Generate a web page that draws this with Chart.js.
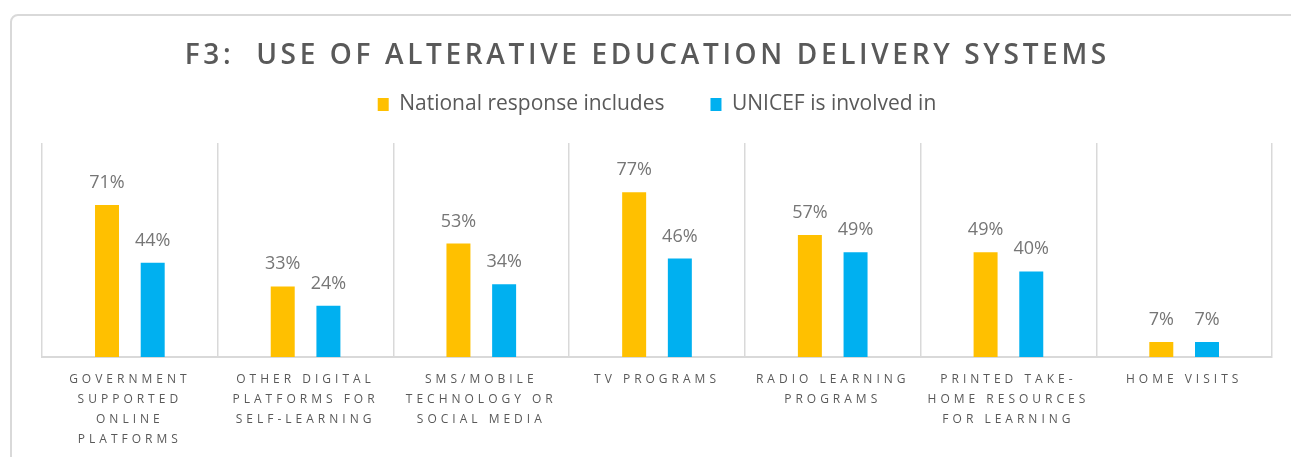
<!DOCTYPE html>
<html>
<head>
<meta charset="utf-8">
<title>F3: Use of alterative education delivery systems</title>
<script src="https://cdn.jsdelivr.net/npm/chart.js@4/dist/chart.umd.min.js"></script>
<style>
  html, body { margin: 0; padding: 0; background: #fff; }
  #chart { display: block; }
</style>
</head>
<body>
<canvas id="chart" width="1291" height="457"></canvas>
<script>
// Chart data
const titleText = 'F3:  USE OF ALTERATIVE EDUCATION DELIVERY SYSTEMS';
const categories = [
  ['GOVERNMENT', 'SUPPORTED', 'ONLINE', 'PLATFORMS'],
  ['OTHER DIGITAL', 'PLATFORMS FOR', 'SELF-LEARNING'],
  ['SMS/MOBILE', 'TECHNOLOGY OR', 'SOCIAL MEDIA'],
  ['TV PROGRAMS'],
  ['RADIO LEARNING', 'PROGRAMS'],
  ['PRINTED TAKE-', 'HOME RESOURCES', 'FOR LEARNING'],
  ['HOME VISITS']
];
const seriesNames = ['National response includes', 'UNICEF is involved in'];
const nationalValues = [71, 33, 53, 77, 57, 49, 7];
const unicefValues = [44, 24, 34, 46, 49, 40, 7];

const textGray = '#595959';
const lineGray = '#d9d9d9';

// Outer frame and the letter-spaced title
const frameAndTitle = {
  id: 'frameAndTitle',
  beforeDraw(chart) {
    const ctx = chart.ctx;
    ctx.save();
    ctx.strokeStyle = lineGray;
    ctx.lineWidth = 2;
    ctx.beginPath();
    ctx.moveTo(11, chart.height);
    ctx.lineTo(11, 22);
    ctx.arcTo(11, 15, 18, 15, 7);
    ctx.lineTo(chart.width, 15);
    ctx.stroke();

    const spacing = 3.65;
    ctx.font = '600 28px "Open Sans"';
    ctx.letterSpacing = spacing + 'px';
    ctx.fillStyle = textGray;
    ctx.textAlign = 'center';
    ctx.textBaseline = 'alphabetic';
    ctx.fillText(titleText, chart.width / 2 + spacing / 2, 64);
    ctx.restore();
  }
};

// Percent labels above the bars
const valueLabels = {
  id: 'valueLabels',
  afterDatasetsDraw(chart) {
    const ctx = chart.ctx;
    ctx.save();
    ctx.font = '18px "Open Sans"';
    ctx.fillStyle = '#767676';
    ctx.textAlign = 'center';
    ctx.textBaseline = 'alphabetic';
    chart.data.datasets.forEach((ds, i) => {
      chart.getDatasetMeta(i).data.forEach((bar, j) => {
        ctx.fillText(ds.data[j] + '%', bar.x, bar.y - 17);
      });
    });
    ctx.restore();
    // x tick labels are drawn after this (ticks.z = 1) with wide letter spacing
    ctx.letterSpacing = '4px';
  },
  afterDraw(chart) {
    chart.ctx.letterSpacing = '0px';
  }
};

const chart = new Chart(document.getElementById('chart'), {
  type: 'bar',
  data: {
    labels: categories,
    datasets: [
      {
        label: seriesNames[0],
        data: nationalValues,
        backgroundColor: '#ffc000',
        categoryPercentage: 0.52,
        barPercentage: 0.525
      },
      {
        label: seriesNames[1],
        data: unicefValues,
        backgroundColor: '#00b0f0',
        categoryPercentage: 0.52,
        barPercentage: 0.525
      }
    ]
  },
  options: {
    responsive: false,
    animation: false,
    layout: {
      padding: { top: 48, left: 42, right: 19, bottom: 0 }
    },
    plugins: {
      title: { display: false },
      // empty subtitle used as a spacer between legend and plot
      subtitle: {
        display: true,
        text: '',
        weight: 500,
        padding: 0,
        font: { size: 18, lineHeight: 1 }
      },
      legend: {
        position: 'top',
        labels: {
          boxWidth: 11,
          boxHeight: 13,
          padding: 46,
          color: textGray,
          font: { family: 'Open Sans', size: 21 }
        }
      },
      tooltip: { enabled: false }
    },
    scales: {
      x: {
        grid: { color: lineGray, lineWidth: 1.5, drawTicks: false, offset: true },
        border: { color: lineGray, width: 2 },
        ticks: {
          z: 1,
          color: textGray,
          padding: 13,
          maxRotation: 0,
          minRotation: 0,
          autoSkip: false,
          font: { family: 'Open Sans', size: 12, lineHeight: '20px' }
        },
        // room for four label lines under the baseline
        afterFit(scale) {
          scale.height = 100;
        }
      },
      y: {
        display: false,
        min: 0,
        max: 100
      }
    }
  },
  plugins: [frameAndTitle, valueLabels]
});
</script>
</body>
</html>
